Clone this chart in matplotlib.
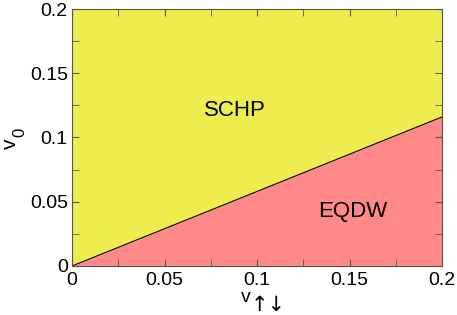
import numpy as np
import matplotlib
matplotlib.use("Agg")
import matplotlib.pyplot as plt
from matplotlib.ticker import MultipleLocator

# phase boundary v0 vs v_updown
v_ud = [0.0, 0.05, 0.1, 0.15, 0.2]
v0_boundary = [0.0, 0.029, 0.058, 0.087, 0.116]

plt.rcParams['font.family'] = ['Liberation Sans', 'DejaVu Sans']

fig = plt.figure(figsize=(4.57, 3.15), dpi=100)
ax = fig.add_axes([72 / 457, 49 / 315, 370 / 457, 257 / 315])

ax.fill_between(v_ud, v0_boundary, 0.2, color='#eded50', lw=0)
ax.fill_between(v_ud, 0, v0_boundary, color='#ff8888', lw=0)
ax.plot(v_ud, v0_boundary, color='black', lw=0.8)

ax.text(0.0878, 0.1214, 'SCHP', fontsize=16, ha='center', va='center')
ax.text(0.152, 0.0424, 'EQDW', fontsize=16, ha='center', va='center')

ax.set_xlim(0, 0.2)
ax.set_ylim(0, 0.2)
ax.xaxis.set_major_locator(MultipleLocator(0.05))
ax.yaxis.set_major_locator(MultipleLocator(0.05))
ax.xaxis.set_minor_locator(MultipleLocator(0.025))
ax.yaxis.set_minor_locator(MultipleLocator(0.025))
ax.xaxis.set_major_formatter(plt.FuncFormatter(lambda v, p: '%g' % round(v, 3)))
ax.yaxis.set_major_formatter(plt.FuncFormatter(lambda v, p: '%g' % round(v, 3)))
ax.tick_params(which='both', direction='in', top=True, right=True,
               labelsize=14, color='#555555', length=5)
ax.tick_params(axis='x', pad=4)
ax.tick_params(axis='y', pad=3)
for s in ax.spines.values():
    s.set_color('#555555')

# axis labels, built by hand so the subscripts sit like the original
fig.text(241 / 457, 1 - 302 / 315, 'v', fontsize=14, ha='left', va='baseline')
fig.text(251 / 457, 1 - 311 / 315, '\u2191\u2193', fontsize=15, ha='left',
         va='baseline', family=['DejaVu Sans'])
fig.text(1 / 457, 1 - 149 / 315, 'v', fontsize=15, rotation=90,
         ha='left', va='bottom')
fig.text(12 / 457, 1 - 137 / 315, '0', fontsize=12, rotation=90,
         ha='left', va='bottom')

fig.savefig('out.png', dpi=100)
